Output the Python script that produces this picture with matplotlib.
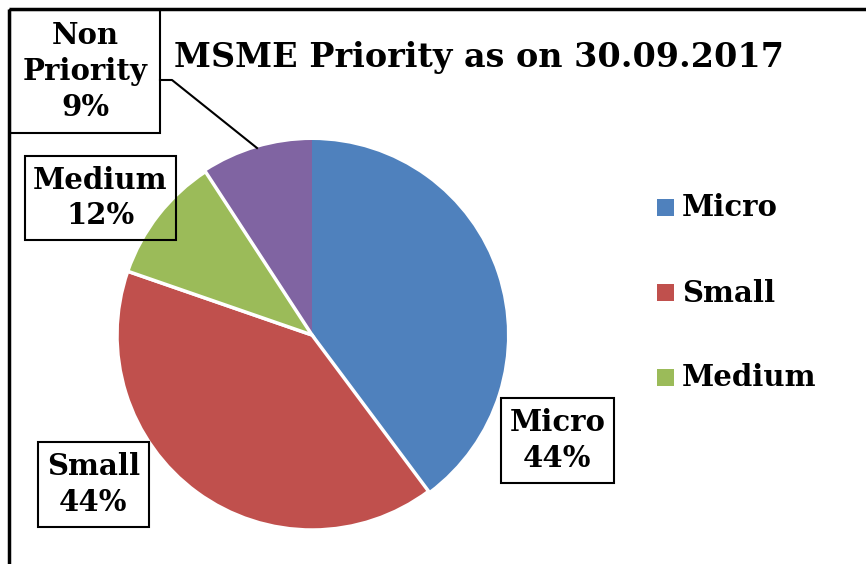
import matplotlib
matplotlib.use("Agg")
import matplotlib.pyplot as plt

plt.rcParams["font.family"] = ["DejaVu Serif"]
plt.rcParams["font.weight"] = "bold"

# ---- data ----
categories = ["Micro", "Small", "Medium", "Non Priority"]
shares = [39.8, 40.5, 10.5, 9.2]          # slice sizes
label_text = ["Micro\n44%", "Small\n44%", "Medium\n12%", "Non\nPriority\n9%"]
colors = ["#4F81BD", "#C0504D", "#9BBB59", "#8064A2"]
legend_items = categories[:3]

W, H = 866, 564
fig = plt.figure(figsize=(W / 100, H / 100), dpi=100)
ax = fig.add_axes([0, 0, 1, 1])


def fy(y):  # pixel row (top-down) -> axes y
    return H - y


wedges, _ = ax.pie(shares, colors=colors, startangle=90, counterclock=False,
                   center=(312, fy(335)), radius=195, frame=True,
                   wedgeprops=dict(edgecolor="none", linewidth=0))
# white separators only where the reference shows them
for w in wedges[1:3]:
    w.set_edgecolor("white")
    w.set_linewidth(2.5)
    w.set_zorder(3)
ax.set_xlim(0, W)
ax.set_ylim(0, H)
ax.set_aspect("equal")
ax.set_axis_off()

# outer chart frame (only left/top visible)
ax.plot([9, 9], [0, fy(9)], color="black", lw=2.5, solid_capstyle="butt")
ax.plot([9, W], [fy(9), fy(9)], color="black", lw=2.5, solid_capstyle="butt")

ax.text(479, fy(57), "MSME Priority as on 30.09.2017", fontsize=24,
        ha="center", va="center")

# data label boxes (x0, y0, x1, y1 in pixel rows)
boxes = [(501, 398, 614, 483), (38, 442, 149, 527),
         (25, 156, 176, 240), (10, 10, 160, 133)]
for (x0, y0, x1, y1), txt in zip(boxes, label_text):
    ax.add_patch(plt.Rectangle((x0, fy(y1)), x1 - x0, y1 - y0, fill=False,
                               edgecolor="black", lw=1.5, zorder=4))
    ax.text((x0 + x1) / 2, fy((y0 + y1) / 2), txt, fontsize=21,
            ha="center", va="center", linespacing=1.3, zorder=5)

# leader line for Non Priority
ax.plot([160, 172, 257], [fy(80), fy(80), fy(148)], color="black", lw=1.5)

# legend
for i, name in enumerate(legend_items):
    yc = 208 + 85 * i
    ax.add_patch(plt.Rectangle((657, fy(yc + 8)), 17, 17,
                               facecolor=colors[i], edgecolor="none"))
    ax.text(682, fy(yc), name, fontsize=21, ha="left", va="center")

fig.savefig("out.png", dpi=100, facecolor="white")
